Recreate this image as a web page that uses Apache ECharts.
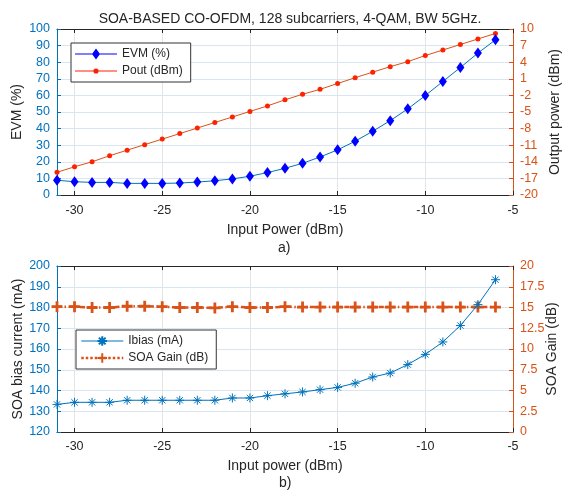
<!DOCTYPE html>
<html>
<head>
<meta charset="utf-8">
<script src="https://cdn.jsdelivr.net/npm/echarts@6/dist/echarts.min.js"></script>
<style>
  html, body { margin: 0; padding: 0; background: #fff; }
  #chart { width: 562px; height: 490px; }
</style>
</head>
<body>
<div id="chart"></div>
<script>
// input power (dBm), shared by both panels
var inputPower = [-31, -30, -29, -28, -27, -26, -25, -24, -23, -22, -21, -20, -19, -18,
  -17, -16, -15, -14, -13, -12, -11, -10, -9, -8, -7, -6];

// panel a)
var evm = [8.9, 8.0, 7.6, 7.6, 7.0, 7.0, 7.0, 7.2, 7.8, 8.6, 9.7, 11.3, 13.5, 16.1,
  19.1, 22.9, 27.2, 32.4, 38.4, 44.8, 51.9, 59.9, 68.4, 76.8, 85.5, 93.5];
var pout = [-15.9, -14.9, -14.0, -12.9, -11.9, -10.9, -9.9, -8.9, -7.9, -6.9, -5.9, -4.9, -3.9, -2.8,
  -1.8, -0.9, 0.15, 1.2, 2.2, 3.2, 4.1, 5.2, 6.2, 7.2, 8.2, 9.2];

// panel b)
var ibias = [133.3, 134.3, 134.3, 134.3, 135.3, 135.3, 135.3, 135.3, 135.3, 135.3, 136.4, 136.4, 137.5, 138.4,
  139.3, 140.4, 141.5, 143.5, 146.5, 148.4, 152.5, 157.4, 163.4, 171.3, 181.4, 193.4];
var gain = [15.1, 15.1, 15.0, 15.0, 15.15, 15.15, 15.1, 15.0, 15.0, 14.95, 15.1, 15.0, 15.0, 15.1,
  15.05, 15.05, 15.05, 15.05, 15.05, 15.05, 15.05, 15.05, 15.05, 15.05, 15.05, 15.05];

// tick labels
var xTicks = [-30, -25, -20, -15, -10, -5];
var poutTicks = [-20, -17, -14, -11, -8, -5, -2, 1, 4, 7, 10];

var BLUE = '#0072BD';
var ORANGE = '#D95319';
var DARK = '#262626';
var FONT = 'Liberation Sans, Arial, sans-serif';

// legend icons: thin line + small marker, like the matlab legend
var ICON_DIAMOND = 'path://M0 5.5H42V6.5H0Z M21 0.5L25 6L21 11.5L17 6Z';
var ICON_DOT = 'path://M0 5.5H42V6.5H0Z M23.6 6A2.6 2.6 0 1 1 18.4 6A2.6 2.6 0 1 1 23.6 6Z';

function pairs(ys) {
  return inputPower.map(function (x, i) { return [x, ys[i]]; });
}

function bottomX(grid, name, gap, margin) {
  return {
    type: 'value', gridIndex: grid, min: -31, max: -5,
    name: name, nameLocation: 'middle', nameGap: gap,
    nameTextStyle: { color: DARK, fontSize: 14, fontFamily: FONT },
    axisLine: { onZero: false, lineStyle: { color: DARK, width: 1 } },
    axisTick: { inside: true, length: 4, customValues: xTicks, lineStyle: { color: DARK } },
    axisLabel: { customValues: xTicks, color: DARK, fontSize: 12.5, fontFamily: FONT, margin: margin },
    splitLine: { show: true, lineStyle: { color: '#e4e4e4', width: 1 } }
  };
}

function topX(grid) {
  return {
    type: 'value', gridIndex: grid, position: 'top', min: -31, max: -5,
    axisLine: { onZero: false, lineStyle: { color: DARK, width: 1 } },
    axisTick: { inside: true, length: 4, customValues: xTicks, lineStyle: { color: DARK } },
    axisLabel: { show: false },
    splitLine: { show: false }
  };
}

function yName(text, gap) {
  return {
    name: text, nameLocation: 'middle', nameGap: gap, nameRotate: 90, nameMoveOverlap: false,
    nameTextStyle: { color: DARK, fontSize: 14, fontFamily: FONT }
  };
}

var chart = echarts.init(document.getElementById('chart'));
var option = {
  animation: false,
  backgroundColor: '#fff',
  title: {
    text: 'SOA-BASED CO-OFDM, 128 subcarriers, 4-QAM, BW 5GHz.',
    left: 285, top: 7, textAlign: 'center',
    textStyle: { color: DARK, fontSize: 14, fontWeight: 'normal', fontFamily: FONT }
  },
  graphic: [
    { type: 'text', left: 278, top: 241, style: { text: 'a)', fill: DARK, fontSize: 14, fontFamily: FONT } },
    { type: 'text', left: 279, top: 476, style: { text: 'b)', fill: DARK, fontSize: 14, fontFamily: FONT } }
  ],
  grid: [
    { left: 57, top: 29, width: 456, height: 166, outerBoundsMode: 'none' },
    { left: 57, top: 266, width: 456, height: 166, outerBoundsMode: 'none' }
  ],
  legend: [
    {
      data: [
        { name: 'EVM (%)', icon: ICON_DIAMOND },
        { name: 'Pout (dBm)', icon: ICON_DOT }
      ],
      orient: 'vertical', left: 71, top: 43,
      padding: [5, 8, 5, 4], itemGap: 5, itemWidth: 42, itemHeight: 12,
      borderColor: '#333', borderWidth: 1, backgroundColor: '#fff',
      textStyle: { color: DARK, fontSize: 12, fontFamily: FONT }
    },
    {
      data: [
        { name: 'Ibias (mA)', lineStyle: { width: 1, type: 'solid' } },
        { name: 'SOA Gain (dB)', lineStyle: { width: 2.5, type: [2.5, 2] } }
      ],
      orient: 'vertical', left: 76, top: 330,
      padding: [5, 8, 5, 4], itemGap: 5, itemWidth: 42, itemHeight: 12,
      borderColor: '#333', borderWidth: 1, backgroundColor: '#fff',
      textStyle: { color: DARK, fontSize: 12, fontFamily: FONT }
    }
  ],
  xAxis: [
    bottomX(0, 'Input Power (dBm)', 28, 9),
    topX(0),
    bottomX(1, 'Input power (dBm)', 27, 8),
    topX(1)
  ],
  yAxis: [
    Object.assign({
      type: 'value', gridIndex: 0, position: 'left', min: 0, max: 100, interval: 10,
      axisLine: { show: true, onZero: false, lineStyle: { color: BLUE } },
      axisTick: { show: true, inside: true, length: 4, lineStyle: { color: BLUE } },
      axisLabel: { color: BLUE, fontSize: 12.5, fontFamily: FONT, margin: 7 },
      splitLine: { show: true, lineStyle: { color: '#d9e6f2' } }
    }, yName('EVM (%)', 33)),
    Object.assign({
      type: 'value', gridIndex: 0, position: 'right', min: -20, max: 10,
      axisLine: { show: true, onZero: false, lineStyle: { color: ORANGE } },
      axisTick: { show: true, inside: true, length: 4, customValues: poutTicks, lineStyle: { color: ORANGE } },
      axisLabel: { customValues: poutTicks, color: ORANGE, fontSize: 12.5, fontFamily: FONT, margin: 7 },
      splitLine: { show: false }
    }, yName('Output power (dBm)', 35)),
    Object.assign({
      type: 'value', gridIndex: 1, position: 'left', min: 120, max: 200, interval: 10,
      axisLine: { show: true, onZero: false, lineStyle: { color: BLUE } },
      axisTick: { show: true, inside: true, length: 4, lineStyle: { color: BLUE } },
      axisLabel: { color: BLUE, fontSize: 12.5, fontFamily: FONT, margin: 7 },
      splitLine: { show: true, lineStyle: { color: '#d9e6f2' } }
    }, yName('SOA bias current (mA)', 32)),
    Object.assign({
      type: 'value', gridIndex: 1, position: 'right', min: 0, max: 20, interval: 2.5,
      axisLine: { show: true, onZero: false, lineStyle: { color: ORANGE } },
      axisTick: { show: true, inside: true, length: 4, lineStyle: { color: ORANGE } },
      axisLabel: { color: ORANGE, fontSize: 12.5, fontFamily: FONT, margin: 7 },
      splitLine: { show: false }
    }, yName('SOA Gain (dB)', 32))
  ],
  series: [
    {
      name: 'EVM (%)', type: 'line', xAxisIndex: 0, yAxisIndex: 0,
      data: pairs(evm),
      symbol: 'diamond', symbolSize: [8, 11],
      lineStyle: { color: BLUE, width: 1 },
      itemStyle: { color: '#0000FF' },
      z: 3
    },
    {
      name: 'Pout (dBm)', type: 'line', xAxisIndex: 0, yAxisIndex: 1,
      data: pairs(pout),
      symbol: 'circle', symbolSize: 5,
      lineStyle: { color: ORANGE, width: 1 },
      itemStyle: { color: '#FF2200' },
      z: 2
    },
    {
      name: 'Ibias (mA)', type: 'line', xAxisIndex: 2, yAxisIndex: 2,
      data: pairs(ibias),
      symbol: 'path://M5 0L5 10M0 5L10 5M1.5 1.5L8.5 8.5M8.5 1.5L1.5 8.5', symbolSize: 9,
      lineStyle: { color: BLUE, width: 1 },
      itemStyle: { color: BLUE, borderColor: BLUE, borderWidth: 1 },
      z: 3
    },
    {
      name: 'SOA Gain (dB)', type: 'line', xAxisIndex: 2, yAxisIndex: 3,
      data: pairs(gain),
      symbol: 'path://M5 0L5 10M0 5L10 5', symbolSize: 11,
      lineStyle: { color: ORANGE, width: 2.5, type: [5, 2.5, 1.5, 2.5] },
      itemStyle: { color: ORANGE, borderColor: ORANGE, borderWidth: 2.8 },
      z: 2
    }
  ]
};
chart.setOption(option);
</script>
</body>
</html>
